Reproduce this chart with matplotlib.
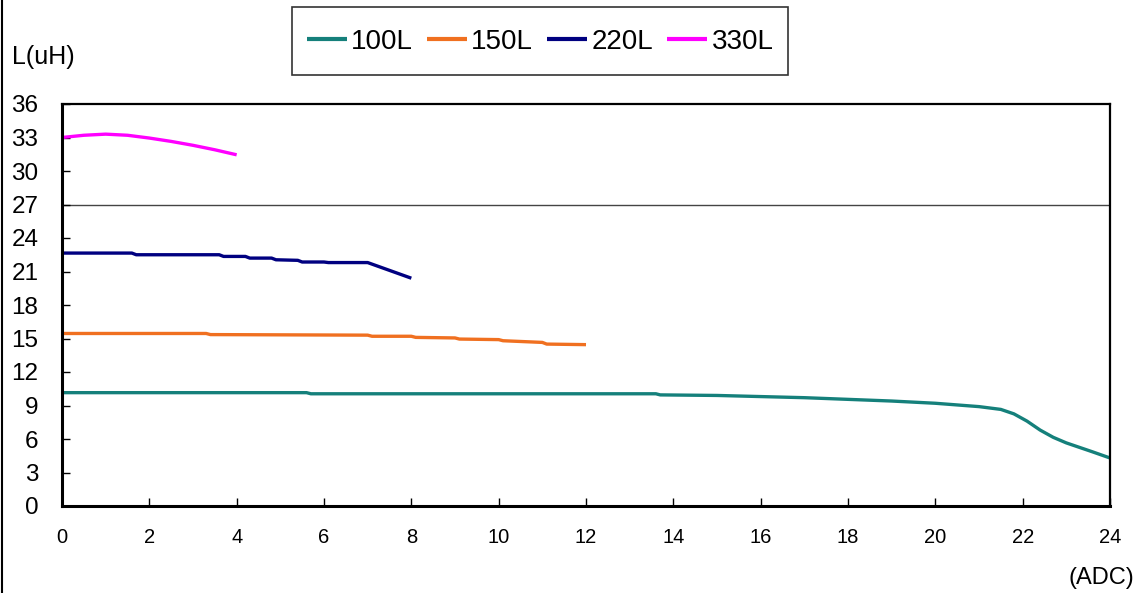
import matplotlib
matplotlib.use("Agg")
import matplotlib.pyplot as plt
from matplotlib.lines import Line2D
from matplotlib.patches import Rectangle

plt.rcParams['font.family'] = ['Liberation Sans', 'DejaVu Sans']

# inductance vs current
x_100 = [0, 2, 4, 5.6, 5.7, 8, 10, 12, 13.6, 13.7, 15, 16, 17, 18, 19, 20, 20.5, 21, 21.5, 21.8, 22.1, 22.4, 22.7, 23.0, 23.3, 23.6, 24]
y_100 = [10.15, 10.15, 10.15, 10.15, 10.05, 10.05, 10.05, 10.05, 10.05, 9.95, 9.9, 9.8, 9.7, 9.55, 9.4, 9.2, 9.05, 8.9, 8.65, 8.25, 7.6, 6.8, 6.15, 5.65, 5.25, 4.85, 4.3]

x_150 = [0, 3.3, 3.4, 7.0, 7.1, 8.0, 8.1, 9.0, 9.1, 10.0, 10.1, 11.0, 11.1, 12.0]
y_150 = [15.45, 15.45, 15.35, 15.3, 15.2, 15.2, 15.1, 15.05, 14.95, 14.9, 14.8, 14.65, 14.5, 14.45]

x_220 = [0, 1.6, 1.7, 3.6, 3.7, 4.2, 4.3, 4.8, 4.9, 5.4, 5.5, 6.0, 6.1, 7.0, 8.0]
y_220 = [22.65, 22.65, 22.5, 22.5, 22.35, 22.35, 22.2, 22.2, 22.05, 22.0, 21.85, 21.85, 21.8, 21.8, 20.4]

x_330 = [0, 0.5, 1.0, 1.5, 2.0, 2.5, 3.0, 3.5, 4.0]
y_330 = [33.0, 33.2, 33.3, 33.2, 32.95, 32.65, 32.3, 31.9, 31.45]

series = [("100L", x_100, y_100, "#15807b"),
          ("150L", x_150, y_150, "#f07020"),
          ("220L", x_220, y_220, "#000080"),
          ("330L", x_330, y_330, "#ff00ff")]

x_ticks = list(range(0, 25, 2))
y_ticks = list(range(0, 37, 3))

W, H = 1141, 593
fig = plt.figure(figsize=(W / 100, H / 100), dpi=100)
ax = fig.add_axes([62 / W, 1 - 506 / H, (1110 - 62) / W, (506 - 104) / H])

for name, xs, ys, col in series:
    ax.plot(xs, ys, color=col, lw=2.4, label=name, solid_capstyle='butt')

ax.axhline(27, color='#444444', lw=1.0, zorder=0)

ax.set_xlim(0, 24)
ax.set_ylim(0, 36)
ax.set_xticks(x_ticks)
ax.set_yticks(y_ticks)
ax.tick_params(axis='y', direction='in', length=6, width=1, pad=17, labelsize=17.5)
ax.tick_params(axis='x', direction='in', length=6, width=1, pad=16, labelsize=14.5)
for side in ['left', 'bottom']:
    ax.spines[side].set_linewidth(2.2)
for side in ['top', 'right']:
    ax.spines[side].set_linewidth(1.6)

fig.text(12 / W, 1 - 57 / H, "L(uH)", fontsize=18, va='center', ha='left')
fig.text(1134 / W, 1 - 578 / H, "(ADC)", fontsize=17, va='center', ha='right')

# legend box drawn by hand, entries placed inside it
fig.add_artist(Rectangle((292 / W, 1 - 75 / H), (788 - 292) / W, 68 / H,
                         transform=fig.transFigure, fill=False,
                         edgecolor='#333333', lw=1.2))
leg = fig.legend(loc='center', bbox_to_anchor=(540 / W, 1 - 42 / H), ncol=4,
                 fontsize=20, frameon=False, handlelength=1.45,
                 handletextpad=0.15, columnspacing=0.5, borderpad=0.2)
for h in leg.get_lines():
    h.set_linewidth(3)

fig.add_artist(Line2D([1.5 / W, 1.5 / W], [0, 1], color='black', lw=1.5,
                      transform=fig.transFigure))

fig.savefig("out.png", dpi=100)
